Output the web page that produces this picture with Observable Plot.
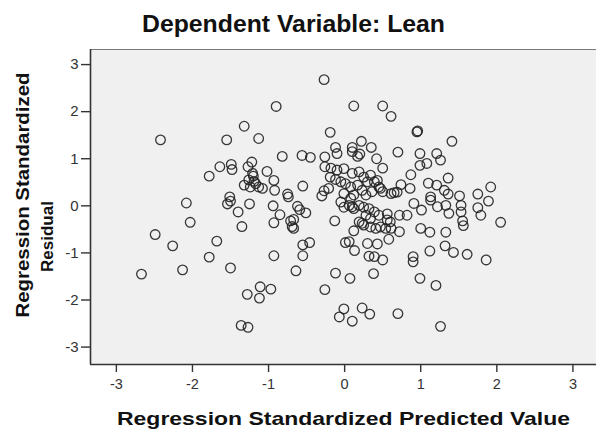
<!DOCTYPE html>
<html>
<head>
<meta charset="utf-8">
<script src="https://cdn.jsdelivr.net/npm/d3@7"></script>
<script src="https://cdn.jsdelivr.net/npm/@observablehq/plot@0.6"></script>
<style>
  body { margin: 0; background: #fff; overflow: hidden; }
  #chart { width: 596px; height: 430px; }
</style>
</head>
<body>
<div id="chart"></div>
<script>
// Residuals vs predicted values (both standardized), one circle per case
const predicted = [
  -2.67, -2.49, -2.42, -2.26, -2.13, -2.08, -2.03, -1.78, -1.78, -1.68,
  -1.64, -1.55, -1.54, -1.50, -1.51, -1.50, -1.49, -1.48, -1.40, -1.36,
  -1.27, -1.35, -1.32, -1.32, -1.28, -1.27, -1.22, -1.25, -1.24, -1.13,
  -1.08, -1.20, -1.19, -1.21, -1.26, -1.17, -1.13, -1.12, -1.11, -1.02,
  -0.97, -0.93, -0.94, -0.93, -0.93, -0.92, -0.90, -0.85, -0.82, -0.75,
  -0.74, -0.71, -0.67, -0.69, -0.67, -0.64, -0.62, -0.59, -0.56, -0.45,
  -0.55, -0.55, -0.46, -0.55, -0.51, -0.30, -0.27, -0.26, -0.26, -0.18,
  -0.26, -0.21, -0.27, -0.19, -0.19, -0.12, -0.13, -0.12, -0.10, -0.12,
  -0.07, -0.01, -0.05, -0.05, 0.01, 0.06, 0.07, 0.10, 0.12, 0.12,
  0.10, 0.10, 0.17, 0.20, 0.22, 0.35, 0.42, 0.50, 0.50, 0.61,
  0.70, 0.95, 0.96, 0.99, 0.99, 1.08, 1.21, 1.26, 1.41, 0.87,
  1.36, 0.74, 0.65, 0.69, 0.86, 1.10, 1.21, 1.31, 1.36, 1.51,
  1.13, 1.75, 1.92, 1.89, 0.91, 1.53, 1.75, 0.47, -0.01, -0.10,
  0.10, 0.19, 0.25, 0.34, 0.43, 0.01, 0.08, 0.17, 0.23, 0.28,
  0.12, 0.08, 0.36, 0.45, 0.50, 0.61, -0.01, 0.06, 0.12, 0.19,
  0.25, 0.32, 0.39, 0.45, 0.56, 0.28, 0.34, 0.19, 0.25, 0.34,
  0.41, 0.47, 0.54, 0.61, 0.23, -0.01, 0.39, 0.30, 0.10, 0.13,
  0.43, 0.30, 0.39, 0.32, 0.50, 0.38, 0.58, 0.60, 0.56, 0.72,
  0.82, 0.72, 1.01, 1.00, 1.12, 1.33, 1.22, 1.33, 1.37, 1.53,
  1.55, 1.56, 1.79, 2.05, 0.90, 0.90, 1.12, 1.32, 1.43, 1.61,
  1.86, 0.99, 1.20, 0.70, 1.26, 0.23, 0.33, 1.13
];
const residual = [
  -1.45, -0.61, 1.40, -0.85, -1.36, 0.06, -0.35, 0.63, -1.09, -0.75,
  0.83, 1.40, 0.04, 0.10, 0.19, -1.32, 0.88, 0.77, -0.13, -2.54,
  -2.58, -0.44, 0.44, 1.69, -1.88, 0.83, 0.93, 0.04, 0.40, 0.40,
  0.37, 0.63, 0.52, 0.69, 0.55, 0.47, 1.43, -1.96, -1.72, 0.73,
  -1.77, 0.54, 0.00, -0.36, -1.06, 0.33, 2.11, -0.19, 1.05, 0.25,
  0.19, -0.32, -0.29, -0.44, -0.48, -1.38, -0.01, -0.08, 1.07, 1.03,
  0.42, -0.83, -0.78, -1.06, -0.15, 0.21, 2.68, 1.04, 0.83, 0.80,
  -1.78, 0.37, 0.32, 1.56, 0.61, 0.56, -0.32, 1.24, 1.11, -1.43,
  -2.36, -2.19, 0.51, 0.08, -0.78, -0.76, -1.54, -2.45, -0.53, 2.12,
  1.24, 1.15, 1.05, 1.10, 1.37, 1.24, 1.00, 0.80, 2.12, 1.90,
  1.14, 1.57, 1.59, 1.11, 0.86, 0.90, 1.11, 0.97, 1.37, 0.66,
  0.59, 0.45, 0.28, 0.29, 0.37, 0.48, 0.44, 0.33, 0.25, 0.21,
  0.19, 0.25, 0.40, 0.10, 0.05, 0.01, -0.04, 0.37, 0.79, 0.76,
  0.69, 0.72, 0.61, 0.65, 0.54, 0.47, 0.40, 0.44, 0.33, 0.23,
  0.23, 0.16, 0.30, 0.40, 0.30, 0.26, -0.03, 0.01, -0.06, 0.01,
  -0.03, -0.06, -0.13, -0.20, -0.17, -0.20, -0.27, -0.34, -0.41, -0.45,
  -0.48, -0.45, -0.48, -0.48, -0.37, 0.26, 0.51, 0.51, -0.02, -0.95,
  -0.81, -0.80, -1.08, -1.07, -1.15, -1.44, -0.71, -0.34, -0.30, -0.55,
  -0.20, -0.20, -0.09, -0.48, -0.56, -0.56, -0.02, 0.01, -0.16, -0.13,
  -0.32, -0.42, -0.20, -0.35, -1.08, -1.19, -0.96, -0.85, -0.99, -1.03,
  -1.15, -1.54, -1.69, -2.29, -2.56, -2.17, -2.30, 0.12
];

const xTicks = [-3, -2, -1, 0, 1, 2, 3];
const yTicks = [-3, -2, -1, 0, 1, 2, 3];

const title = "Dependent Variable: Lean";
const xLabel = "Regression Standardized Predicted Value";
const yLabelTop = "Regression Standardized";
const yLabelBottom = "Residual";

const cases = predicted.map((p, i) => ({predicted: p, residual: residual[i]}));

const xDomain = [-3.34, 3.31];
const yDomain = [-3.37, 3.32];
const ink = "#222";
const fontFamily = "'Liberation Sans', Arial, Helvetica, sans-serif";

const chart = Plot.plot({
  width: 596,
  height: 430,
  marginLeft: 90,
  marginRight: 0,
  marginTop: 49,
  marginBottom: 66,
  style: {fontFamily, background: "#fff", overflow: "visible"},
  x: {domain: xDomain},
  y: {domain: yDomain},
  marks: [
    Plot.frame({fill: "#f0f0f0", stroke: null}),
    // left, bottom and top borders of the plot area
    Plot.ruleY([yDomain[1]], {stroke: "#777", strokeWidth: 1}),
    Plot.ruleX([xDomain[0]], {stroke: "#333", strokeWidth: 1.6}),
    Plot.ruleY([yDomain[0]], {stroke: "#333", strokeWidth: 1.6}),
    Plot.axisX({
      ticks: xTicks, tickFormat: d => `${d}`, tickSize: 8, tickPadding: 6,
      fontSize: 14.5, label: null, color: "#333", strokeWidth: 1.4
    }),
    Plot.axisY({
      ticks: yTicks, tickFormat: d => `${d}`, tickSize: 9, tickPadding: 3,
      fontSize: 15, label: null, color: "#333", strokeWidth: 1.4
    }),
    Plot.dot(cases, {
      x: "predicted", y: "residual", r: 4.8,
      stroke: ink, strokeWidth: 1.3, strokeOpacity: 0.9, fill: "none"
    }),
    Plot.text([title], {
      frameAnchor: "top", dx: -50, dy: -25.5, lineAnchor: "middle",
      fontSize: 24, fontWeight: "bold", fill: "#111"
    }),
    Plot.text([xLabel], {
      frameAnchor: "bottom", dy: 54, lineAnchor: "middle",
      fontSize: 19, fontWeight: "bold", fill: "#111"
    }),
    // rotated labels start at their lower end and run upwards
    Plot.text([yLabelTop], {
      frameAnchor: "left", dx: -67, dy: 110.5, rotate: -90, lineAnchor: "middle",
      textAnchor: "start", fontSize: 18, fontWeight: "bold", fill: "#111"
    }),
    Plot.text([yLabelBottom], {
      frameAnchor: "left", dx: -42.5, dy: 65, rotate: -90, lineAnchor: "middle",
      textAnchor: "start", fontSize: 17, fontWeight: "bold", fill: "#111"
    })
  ]
});

// stretch the long labels to their drawn lengths
const stretch = {[xLabel]: 453, [yLabelTop]: 245, [title]: 303};
d3.select(chart).selectAll("text").each(function () {
  const len = stretch[this.textContent];
  if (len) d3.select(this).attr("textLength", len).attr("lengthAdjust", "spacingAndGlyphs");
});

document.getElementById("chart").appendChild(chart);
</script>
</body>
</html>
